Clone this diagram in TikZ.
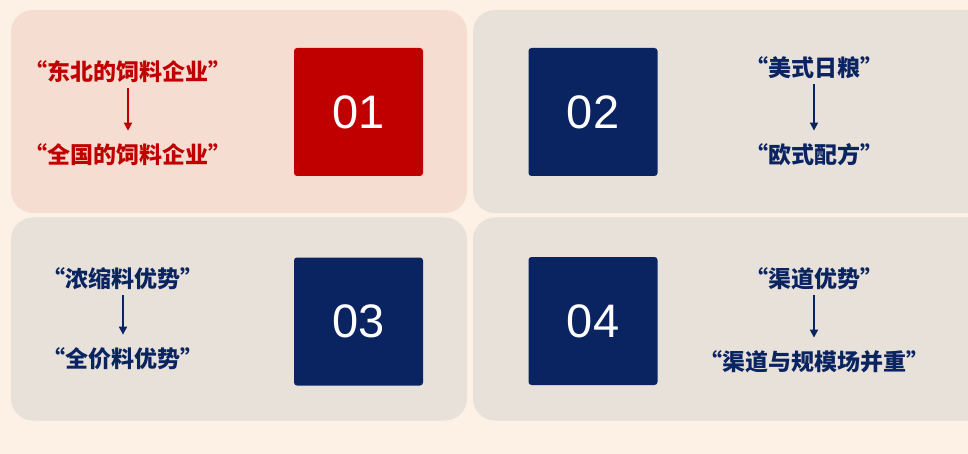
\documentclass[tikz,border=0pt]{standalone}
\usepackage{fontspec}
\setmainfont{Liberation Sans}
\newfontfamily\cjk{Noto Sans CJK SC}
\usetikzlibrary{positioning,arrows.meta}

\definecolor{bgcream}{HTML}{FCF1E4}
\definecolor{pinkpanel}{HTML}{F6DDD2}
\definecolor{greypanel}{HTML}{E8E1D9}
\definecolor{darkred}{HTML}{C00000}
\definecolor{navy}{HTML}{0A2462}

\begin{document}
\begin{tikzpicture}[
			x=1pt, y=-1pt,
			panel/.style={
				rounded corners=22pt,
				minimum height=203pt,
				inner sep=0pt,
				fill=greypanel
			},
			numbox/.style={
				rounded corners=3pt,
				minimum width=129pt,
				minimum height=128pt,
				inner sep=0pt,
				text=white,
				font=\fontsize{47}{47}\selectfont,
				fill=navy
			},
			label/.style={
				inner sep=0pt,
				text=navy,
				font=\cjk\bfseries\fontsize{23}{23}\selectfont
			},
			arrow/.style={-{Triangle[length=8pt,width=8pt]},line width=1.8pt,draw=navy,
				shorten <=5pt,shorten >=13pt}
			]
			
			\fill[bgcream] (0,0) rectangle (968,454);
			\clip (0,0) rectangle (968,454);
			
			% panels
			\node[panel,fill=pinkpanel,minimum width=456pt] (p1) at (239,111.5) {};
			\node[panel,minimum width=517pt] (p2) at (731.5,111.5) {};
			\node[panel,minimum width=456pt] (p3) at (239,319) {};
			\node[panel,minimum width=517pt] (p4) at (731.5,319) {};
			
			% number boxes
			\node[numbox,fill=darkred] (n1) at (358.5,112) {01};
			\node[numbox] (n2) at (593,112) {02};
			\node[numbox] (n3) at (358.5,321.5) {03};
			\node[numbox] (n4) at (593,321) {04};
			
			% texts
			\node[label,text=darkred] (t1a) at (128,72) {“东北的饲料企业”};
			\node[label,text=darkred] (t1b) at (128,155) {“全国的饲料企业”};
			\node[label] (t2a) at (814,68) {“美式日粮”};
			\node[label] (t2b) at (814,155) {“欧式配方”};
			\node[label] (t3a) at (123,279) {“浓缩料优势”};
			\node[label] (t3b) at (123,359) {“全价料优势”};
			\node[label] (t4a) at (814,279) {“渠道优势”};
			\node[label] (t4b) at (814,362) {“渠道与规模场并重”};
			
			\draw[arrow,draw=darkred] (t1a) -- (t1b);
			\draw[arrow] (t2a) -- (t2b);
			\draw[arrow] (t3a) -- (t3b);
			\draw[arrow] (t4a) -- (t4b);
			
		\end{tikzpicture}
\end{document}
